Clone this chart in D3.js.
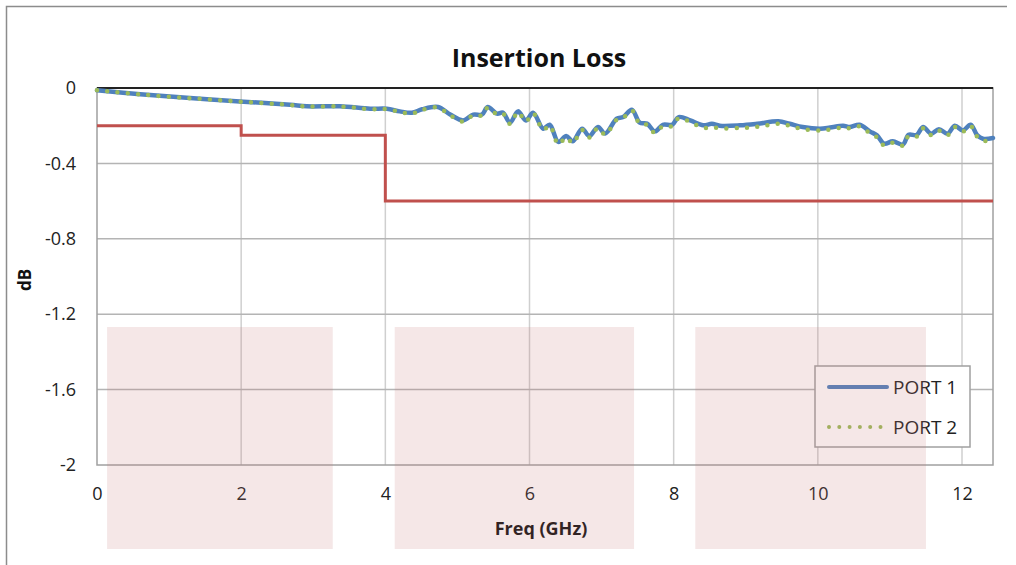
<!doctype html>
<html lang="en">
<head>
    <meta charset="utf-8">
    <title>Insertion Loss</title>
    <style>
        body {
            margin: 0;
            background-color: white;
            font-family: 'Open Sans', sans-serif;
        }
        .tick text {
            fill: #222;
        }
    </style>
</head>
<body>
    <svg id="chart"></svg>
    <script src="https://d3js.org/d3.v7.min.js"></script>
    <script>

        // frequency points (GHz)
        var freq = [0, 0.6, 1.29, 1.98, 2.68, 2.91, 3.37, 3.79, 4.02, 4.2, 4.37, 4.51, 4.73, 4.9, 5.08, 5.22,
            5.34, 5.42, 5.55, 5.63, 5.73, 5.84, 5.95, 6.05, 6.19, 6.28, 6.4, 6.51, 6.6, 6.73, 6.83, 6.95,
            7.05, 7.21, 7.3, 7.42, 7.53, 7.63, 7.74, 7.85, 7.98, 8.07, 8.23, 8.41, 8.53, 8.64, 8.92, 9.16,
            9.45, 9.61, 9.79, 10.03, 10.17, 10.35, 10.44, 10.58, 10.72, 10.82, 10.92, 11.04, 11.18, 11.26,
            11.37, 11.46, 11.57, 11.68, 11.8, 11.9, 12.01, 12.12, 12.21, 12.29, 12.43];

        var port1 = [-0.012, -0.033, -0.053, -0.071, -0.089, -0.097, -0.097, -0.11, -0.11, -0.124, -0.131, -0.113, -0.101, -0.141, -0.172, -0.141,
            -0.141, -0.101, -0.136, -0.131, -0.184, -0.124, -0.172, -0.131, -0.216, -0.195, -0.286, -0.255, -0.283, -0.216, -0.255, -0.207,
            -0.242, -0.163, -0.154, -0.115, -0.184, -0.189, -0.23, -0.195, -0.195, -0.154, -0.172, -0.198, -0.19, -0.2, -0.198, -0.19,
            -0.177, -0.19, -0.207, -0.216, -0.21, -0.2, -0.207, -0.195, -0.23, -0.251, -0.295, -0.283, -0.3, -0.248,
            -0.25, -0.207, -0.242, -0.219, -0.242, -0.2, -0.225, -0.195, -0.25, -0.269, -0.265];

        var port2 = [-0.012, -0.034, -0.054, -0.072, -0.09, -0.098, -0.098, -0.112, -0.112, -0.127, -0.136, -0.116, -0.104, -0.145, -0.178, -0.145,
            -0.146, -0.104, -0.14, -0.135, -0.19, -0.128, -0.178, -0.135, -0.222, -0.2, -0.298, -0.262, -0.292, -0.222, -0.262, -0.212,
            -0.248, -0.168, -0.158, -0.12, -0.19, -0.196, -0.238, -0.202, -0.202, -0.16, -0.18, -0.212, -0.208, -0.214, -0.212, -0.206,
            -0.19, -0.2, -0.218, -0.226, -0.22, -0.21, -0.214, -0.203, -0.24, -0.262, -0.305, -0.29, -0.306, -0.255,
            -0.258, -0.214, -0.25, -0.226, -0.25, -0.207, -0.232, -0.202, -0.258, -0.28, -0.278];

        // spec limit (step line)
        var limitFreq = [0, 2, 2, 4, 4, 12.43];
        var limitLoss = [-0.2, -0.2, -0.25, -0.25, -0.6, -0.6];

        var xTicks = [0, 2, 4, 6, 8, 10, 12];
        var yTicks = [0, -0.4, -0.8, -1.2, -1.6, -2];
        var seriesNames = ["PORT 1", "PORT 2"];

        // shaded bands (GHz) laid over the frame
        var bandStart = [0.14, 4.13, 8.3];
        var bandEnd = [3.27, 7.45, 11.5];

        var svgWidth = 1016;
        var svgHeight = 565;
        var margin = { top: 88, right: 23, bottom: 100, left: 97 };
        var width = svgWidth - margin.left - margin.right;
        var height = svgHeight - margin.top - margin.bottom;

        var svg = d3.select("#chart")
            .attr("width", svgWidth)
            .attr("height", svgHeight);

        // outer chart frame
        svg.append("path")
            .attr("d", "M6.5," + svgHeight + "V6.5H1007")
            .attr("fill", "none")
            .attr("stroke", "#8c8c8c")
            .attr("stroke-width", 1.5);

        var g = svg.append("g")
            .attr("transform", "translate(" + margin.left + "," + margin.top + ")");

        var x = d3.scaleLinear().domain([0, 12.43]).range([0, width]);
        var y = d3.scaleLinear().domain([-2, 0]).range([height, 0]);

        // gridlines
        g.append("g")
            .selectAll("line")
            .data(xTicks.slice(1))
            .join("line")
            .attr("x1", function (d) { return x(d) })
            .attr("x2", function (d) { return x(d) })
            .attr("y1", 0)
            .attr("y2", height)
            .attr("stroke", "#cfcfcf")
            .attr("stroke-width", 1.5);

        g.append("g")
            .selectAll("line")
            .data(yTicks.slice(1, -1))
            .join("line")
            .attr("x1", 0)
            .attr("x2", width)
            .attr("y1", function (d) { return y(d) })
            .attr("y2", function (d) { return y(d) })
            .attr("stroke", "#b4b4b4")
            .attr("stroke-width", 1.5);

        // plot border
        g.append("rect")
            .attr("width", width)
            .attr("height", height)
            .attr("fill", "none")
            .attr("stroke", "#a0a0a0")
            .attr("stroke-width", 1.5);

        // x axis line sits at 0 dB, labels go at the bottom
        g.append("line")
            .attr("x1", 0)
            .attr("x2", width)
            .attr("y1", y(0))
            .attr("y2", y(0))
            .attr("stroke", "#222")
            .attr("stroke-width", 2);

        var xAxis = g.append("g")
            .attr("transform", "translate(0," + height + ")")
            .call(d3.axisBottom(x).tickValues(xTicks).tickSize(0).tickPadding(22).tickFormat(function (d) { return String(d) }));
        xAxis.select(".domain").remove();
        xAxis.selectAll("text")
            .style("font-family", "'Open Sans', sans-serif")
            .style("font-size", "18px");

        var yAxis = g.append("g")
            .call(d3.axisLeft(y).tickValues(yTicks).tickSize(0).tickPadding(21).tickFormat(function (d) { return String(d) }));
        yAxis.select(".domain").remove();
        yAxis.selectAll("text")
            .style("font-family", "'Open Sans', sans-serif")
            .style("font-size", "18px");

        // limit line
        var limitData = limitFreq.map(function (f, i) { return { f: f, v: limitLoss[i] } });
        g.append("path")
            .datum(limitData)
            .attr("fill", "none")
            .attr("stroke", "#c0504d")
            .attr("stroke-width", 3)
            .attr("d", d3.line()
                .x(function (d) { return x(d.f) })
                .y(function (d) { return y(d.v) }));

        var line = d3.line()
            .curve(d3.curveCatmullRom.alpha(0.5))
            .x(function (d) { return x(d.f) })
            .y(function (d) { return y(d.v) });

        var p1 = freq.map(function (f, i) { return { f: f, v: port1[i] } });
        var p2 = freq.map(function (f, i) { return { f: f, v: port2[i] } });

        g.append("path")
            .datum(p1)
            .attr("fill", "none")
            .attr("stroke", "#4f81bd")
            .attr("stroke-width", 4.5)
            .attr("stroke-linejoin", "round")
            .attr("stroke-linecap", "round")
            .attr("d", line);

        g.append("path")
            .datum(p2)
            .attr("fill", "none")
            .attr("stroke", "#9bbb59")
            .attr("stroke-width", 4.5)
            .attr("stroke-linecap", "round")
            .attr("stroke-dasharray", "0 10.3")
            .attr("d", line);

        // legend
        var legend = g.append("g")
            .attr("transform", "translate(" + (815 - margin.left) + "," + (366 - margin.top) + ")");
        legend.append("rect")
            .attr("width", 155)
            .attr("height", 81)
            .attr("fill", "white")
            .attr("stroke", "#a0a0a0")
            .attr("stroke-width", 1.5);

        legend.append("line")
            .attr("x1", 14).attr("x2", 72)
            .attr("y1", 21).attr("y2", 21)
            .attr("stroke", "#4f81bd")
            .attr("stroke-width", 4)
            .attr("stroke-linecap", "round");
        legend.append("line")
            .attr("x1", 14).attr("x2", 72)
            .attr("y1", 61).attr("y2", 61)
            .attr("stroke", "#9bbb59")
            .attr("stroke-width", 4)
            .attr("stroke-linecap", "round")
            .attr("stroke-dasharray", "0 10.3");

        legend.selectAll("text.name")
            .data(seriesNames)
            .join("text")
            .attr("class", "name")
            .attr("x", 78)
            .attr("y", function (d, i) { return 28 + i * 40 })
            .attr("fill", "#222")
            .style("font-size", "19px")
            .text(function (d) { return d });

        // titles
        svg.append("text")
            .attr("x", 539)
            .attr("y", 67)
            .attr("text-anchor", "middle")
            .attr("fill", "#111")
            .style("font-size", "25px")
            .style("font-weight", "bold")
            .text("Insertion Loss");

        svg.append("text")
            .attr("x", 541)
            .attr("y", 535)
            .attr("text-anchor", "middle")
            .attr("fill", "#111")
            .style("font-size", "18px")
            .style("font-weight", "bold")
            .text("Freq (GHz)");

        svg.append("text")
            .attr("transform", "translate(31,280) rotate(-90)")
            .attr("text-anchor", "middle")
            .attr("fill", "#111")
            .style("font-size", "17px")
            .style("font-weight", "bold")
            .text("dB");

        // translucent shaded bands
        svg.append("g")
            .selectAll("rect")
            .data(bandStart)
            .join("rect")
            .attr("x", function (d) { return margin.left + x(d) })
            .attr("width", function (d, i) { return x(bandEnd[i]) - x(d) })
            .attr("y", 327)
            .attr("height", 222)
            .attr("fill", "rgb(200,120,120)")
            .attr("opacity", 0.18);
    </script>
</body>
</html>
